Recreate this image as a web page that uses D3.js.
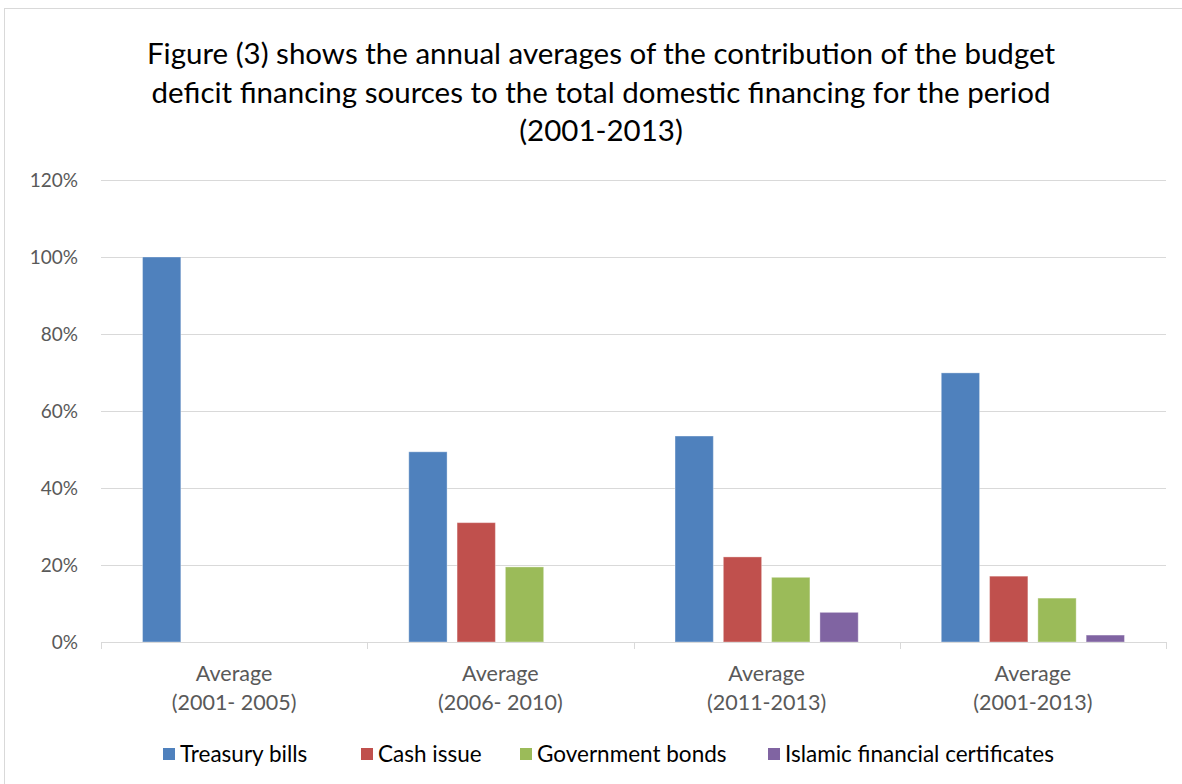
<!DOCTYPE html>
<meta charset="utf-8">
<title>Budget deficit financing sources</title>
<style>
    body { margin: 0; background: #fff; }
    text { font-family: Lato, "Open Sans", sans-serif; }
    .grid line { stroke: #d9d9d9; stroke-width: 1px; }
    .grid path { display: none; }
    .axisY text { fill: #595959; font-size: 19px; }
    .axisX text { fill: #595959; font-size: 21.5px; }
</style>
<body>
<div id="my_chart"></div>
<script src="https://d3js.org/d3.v7.min.js"></script>
<script>

    // data
    var groups = ["Average (2001- 2005)", "Average (2006- 2010)", "Average (2011-2013)", "Average (2001-2013)"];
    var groupLines = [["Average", "(2001- 2005)"], ["Average", "(2006- 2010)"], ["Average", "(2011-2013)"], ["Average", "(2001-2013)"]];
    var seriesNames = ["Treasury bills", "Cash issue", "Government bonds", "Islamic financial certificates"];
    var treasuryBills = [100, 49.4, 53.5, 69.9];
    var cashIssue = [0, 31.0, 22.1, 17.1];
    var governmentBonds = [0, 19.5, 16.8, 11.4];
    var islamicCertificates = [0, 0, 7.7, 1.8];
    var yTicks = [0, 20, 40, 60, 80, 100, 120];
    var titleLines = [
        "Figure (3) shows the annual averages of the contribution of the budget",
        "deficit financing sources to the total domestic financing for the period",
        "(2001-2013)"
    ];
    var colors = ["#4f81bd", "#c0504d", "#9bbb59", "#8064a2"];

    var seriesValues = [treasuryBills, cashIssue, governmentBonds, islamicCertificates];

    var W = 1182, H = 784;
    var margin = { top: 180, right: 16, bottom: 142, left: 101 },
        width = W - margin.left - margin.right,
        height = H - margin.top - margin.bottom;

    var svg = d3.select("#my_chart")
        .append("svg")
        .attr("width", W)
        .attr("height", H);

    // chart frame
    svg.append("rect")
        .attr("x", 4.5).attr("y", 8.5)
        .attr("width", W + 10).attr("height", H + 10)
        .attr("fill", "none")
        .attr("stroke", "#d9d9d9");

    // title
    svg.append("g").selectAll("text")
        .data(titleLines)
        .enter().append("text")
        .attr("x", 601)
        .attr("y", function (d, i) { return 64 + i * 38.5; })
        .attr("text-anchor", "middle")
        .attr("font-size", "29.5px")
        .attr("fill", "#000")
        .text(function (d) { return d; });

    var g = svg.append("g")
        .attr("transform", "translate(" + margin.left + "," + margin.top + ")");

    var x0 = d3.scaleBand().domain(groups).range([0, width]).padding(0);
    var x1 = d3.scaleBand().domain(seriesNames).range([0, x0.bandwidth()])
        .paddingInner(0.207).paddingOuter(0.86);
    var y = d3.scaleLinear().domain([0, 120]).range([height, 0]);

    // gridlines
    g.append("g")
        .attr("class", "grid")
        .call(d3.axisLeft(y).tickValues(yTicks.slice(1)).tickSize(-width).tickFormat(""));

    // y labels
    var yAxis = g.append("g")
        .attr("class", "axisY")
        .call(d3.axisLeft(y).tickValues(yTicks).tickSize(0).tickPadding(23)
            .tickFormat(function (d) { return d + "%"; }));
    yAxis.select(".domain").remove();

    // bars
    var table = [];
    groups.forEach(function (grp, gi) {
        seriesNames.forEach(function (s, si) {
            table.push({ group: grp, series: s, si: si, value: seriesValues[si][gi] });
        });
    });

    g.append("g").selectAll("rect")
        .data(table.filter(function (d) { return d.value > 0; }))
        .enter().append("rect")
        .attr("x", function (d) { return x0(d.group) + x1(d.series); })
        .attr("y", function (d) { return y(d.value); })
        .attr("width", x1.bandwidth())
        .attr("height", function (d) { return height - y(d.value); })
        .attr("fill", function (d) { return colors[d.si]; })
        .attr("stroke", "#fff")
        .attr("stroke-opacity", 0.35)
        .attr("stroke-width", 1);

    // x axis line with group boundary ticks
    g.append("line")
        .attr("x1", 0).attr("x2", width)
        .attr("y1", height + 0.5).attr("y2", height + 0.5)
        .attr("stroke", "#d9d9d9");
    var bounds = groups.map(function (d) { return x0(d); }).concat([width]);
    g.append("g").selectAll("line")
        .data(bounds)
        .enter().append("line")
        .attr("x1", function (d) { return Math.round(d) + 0.5; })
        .attr("x2", function (d) { return Math.round(d) + 0.5; })
        .attr("y1", height).attr("y2", height + 7)
        .attr("stroke", "#d9d9d9");

    // x labels, two lines each
    var xl = g.append("g").attr("class", "axisX").selectAll("text")
        .data(groups)
        .enter().append("text")
        .attr("text-anchor", "middle")
        .attr("x", function (d) { return x0(d) + x0.bandwidth() / 2; })
        .attr("y", height + 39);
    xl.selectAll("tspan")
        .data(function (d, i) { return groupLines[i]; })
        .enter().append("tspan")
        .attr("x", function () { return d3.select(this.parentNode).attr("x"); })
        .attr("dy", function (d, i) { return i === 0 ? 0 : 29; })
        .text(function (d) { return d; });

    // legend
    var legendX = [163, 361, 520, 768];
    var legend = svg.append("g").selectAll("g")
        .data(seriesNames)
        .enter().append("g")
        .attr("transform", function (d, i) { return "translate(" + legendX[i] + ",748)"; });
    legend.append("rect")
        .attr("width", 12).attr("height", 12)
        .attr("fill", function (d, i) { return colors[i]; });
    legend.append("text")
        .attr("x", 17).attr("y", 14)
        .attr("font-size", "22.5px")
        .attr("fill", "#000")
        .text(function (d) { return d; });

</script>
</body>
